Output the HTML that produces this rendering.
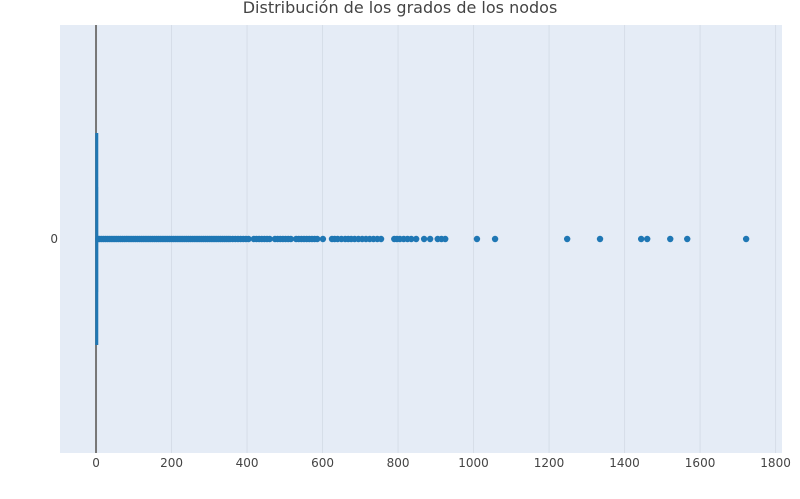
<!DOCTYPE html>
<html><head><meta charset="utf-8"><style>
body{margin:0;background:#fff;font-family:"Liberation Sans","DejaVu Sans",sans-serif}
svg text{font-family:"DejaVu Sans","Liberation Sans",sans-serif}
</style></head><body>
<svg id="chart" width="800" height="494">
<rect x="60" y="25" width="722" height="428" fill="#e5ecf6"/>
<text x="400" y="13" text-anchor="middle" font-size="16" fill="#444">Distribución de los grados de los nodos</text>
<g id="grid"></g><g id="marks"></g><g id="ticks"></g>
</svg>
<script>
const xTicks=[0,200,400,600,800,1000,1200,1400,1600,1800];
const yCategories=["0"];
const boxStats=[0,1,2,3,5]; // min,q1,median,q3,upper fence
const outliers=[6,10,15,20,25,30,35,40,45,50,55,60,65,70,75,80,85,90,95,100,105,110,115,120,125,130,135,140,145,150,155,160,165,170,175,180,185,190,195,200,205,210,215,220,225,230,235,240,245,250,255,260,265,270,275,280,285,290,295,300,305,310,315,320,325,330,335,340,345,350,355,362,369,376,383,390,397,404,418,425,432,439,446,453,460,474,481,488,495,502,509,516,530,537,544,551,558,565,572,579,586,601,625,632,640,650,660,668,676,685,695,705,715,725,735,745,755,790,797,805,815,825,835,848,869,885,905,915,925,1009,1057,1248,1335,1444,1460,1521,1566,1722];
const xMin=-95.4,xMax=1817,pL=60,pR=782,pT=25,pB=453;
const X=v=>pL+(v-xMin)/(xMax-xMin)*(pR-pL);
const Y=()=>239;
const NS="http://www.w3.org/2000/svg";
const grid=document.getElementById('grid'),marks=document.getElementById('marks'),ticks=document.getElementById('ticks');
function mk(tag,attrs,parent){const e=document.createElementNS(NS,tag);for(const k in attrs)e.setAttribute(k,attrs[k]);parent.appendChild(e);return e;}
xTicks.forEach(t=>{
 if(t!==0){const g=mk('line',{x1:X(t),x2:X(t),y1:pT,y2:pB,stroke:'#d6dde8','stroke-width':1},grid);
 
 }
 const l=mk('text',{x:X(t),y:467,'text-anchor':'middle','font-size':12,fill:'#444'},ticks);l.textContent=t;
 
 
});
const z=mk('line',{x1:X(0),x2:X(0),y1:pT,y2:pB,stroke:'#777','stroke-width':2},grid);


yCategories.forEach(c=>{const t=mk('text',{x:58,y:Y(c)+4,'text-anchor':'end','font-size':12,fill:'#444'},ticks);t.textContent=c;
 
 });
const bf=mk('rect',{x:X(boxStats[1]),y:187,width:Math.max(2,X(boxStats[3])-X(boxStats[1])),height:105,fill:'#1f77b4','fill-opacity':0.3},marks);


const bm=mk('line',{x1:X(boxStats[2]),x2:X(boxStats[2]),y1:133,y2:345,stroke:'#1f77b4','stroke-width':3},marks);


const wh=mk('line',{x1:X(boxStats[0]),x2:X(boxStats[4]),y1:Y(),y2:Y(),stroke:'#1f77b4','stroke-width':2},marks);


outliers.forEach(v=>{const c=mk('circle',{cx:X(v),cy:Y(),r:3.2,fill:'#1f77b4'},marks);
 
 });
</script>
</body></html>
